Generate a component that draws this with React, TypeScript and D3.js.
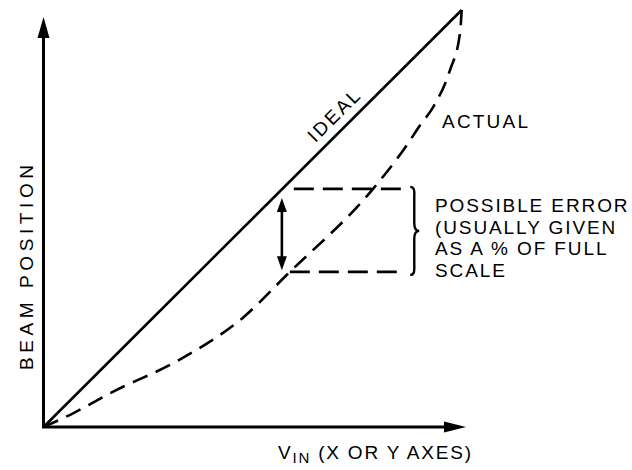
import React, { useEffect, useRef } from 'react'
import * as d3 from 'd3'

// percent of full scale
const idealX = [0, 100]
const idealY = [0, 100]
const actualX = [0, 7.3, 16.1, 31.9, 47.9, 58.2, 78.8, 86.9, 90.0, 93.1, 97.2, 99.6, 100]
const actualY = [0, 3.4, 8.2, 15.8, 26.4, 36.5, 57.1, 67.6, 72.3, 76.6, 85.6, 94.5, 100]

// error window (percent)
const errorTop = 57.1
const errorBottom = 37.2
const errorBoxX = [58.9, 86.0]
const errorArrowX = 57.0
const errorArrowY = [37.6, 54.9]
const braceX = 87.7

const noteLines = ['POSSIBLE ERROR', '(USUALLY GIVEN', 'AS A % OF FULL', 'SCALE']

const W = 632
const H = 470
const FONT = '"Liberation Sans", Arial, Helvetica, sans-serif'

function ErrorChart() {
    const ref = useRef<SVGSVGElement>(null)

    useEffect(() => {
        const svg = d3.select(ref.current)
        svg.selectAll('*').remove()

        const x = d3.scaleLinear().domain([0, 100]).range([43.5, 461.7])
        const y = d3.scaleLinear().domain([0, 100]).range([427, 10])

        // axes with filled arrow heads
        svg.append('line')
            .attr('x1', x(0)).attr('y1', y(0))
            .attr('x2', x(0)).attr('y2', 30)
            .attr('stroke', '#000').attr('stroke-width', 3)
        svg.append('path')
            .attr('d', `M${x(0)},17 L${x(0) - 6},38 L${x(0) + 6},38 Z`)
            .attr('fill', '#000')
        svg.append('line')
            .attr('x1', x(0) - 1.5).attr('y1', y(0))
            .attr('x2', 452).attr('y2', y(0))
            .attr('stroke', '#000').attr('stroke-width', 3)
        svg.append('path')
            .attr('d', `M466,${y(0)} L444,${y(0) - 5.5} L444,${y(0) + 5.5} Z`)
            .attr('fill', '#000')

        // ideal (solid)
        svg.append('path')
            .attr('d', d3.line<number>().x(d => x(d)).y((d, i) => y(idealY[i]))(idealX))
            .attr('fill', 'none')
            .attr('stroke', '#000')
            .attr('stroke-width', 2.6)

        // actual (dashed)
        svg.append('path')
            .attr('d', d3.line<number>()
                .x(d => x(d))
                .y((d, i) => y(actualY[i]))
                .curve(d3.curveMonotoneX)(actualX))
            .attr('fill', 'none')
            .attr('stroke', '#000')
            .attr('stroke-width', 2.6)
            .attr('stroke-dasharray', '16 9')

        // error window
        svg.append('line')
            .attr('x1', x(errorBoxX[0]) + 4).attr('x2', x(errorBoxX[1]))
            .attr('y1', y(errorTop)).attr('y2', y(errorTop))
            .attr('stroke', '#000').attr('stroke-width', 2.6)
            .attr('stroke-dasharray', '20 9')
        svg.append('line')
            .attr('x1', x(errorBoxX[0])).attr('x2', x(errorBoxX[1]))
            .attr('y1', y(errorBottom)).attr('y2', y(errorBottom))
            .attr('stroke', '#000').attr('stroke-width', 2.6)
            .attr('stroke-dasharray', '20 9')

        // double-headed arrow
        const ax = x(errorArrowX)
        const aTop = y(errorArrowY[1])
        const aBot = y(errorArrowY[0])
        svg.append('line')
            .attr('x1', ax).attr('x2', ax)
            .attr('y1', aTop + 10).attr('y2', aBot - 10)
            .attr('stroke', '#000').attr('stroke-width', 2.6)
        svg.append('path')
            .attr('d', `M${ax},${aTop} L${ax - 5},${aTop + 14} L${ax + 5},${aTop + 14} Z`)
            .attr('fill', '#000')
        svg.append('path')
            .attr('d', `M${ax},${aBot} L${ax - 5},${aBot - 14} L${ax + 5},${aBot - 14} Z`)
            .attr('fill', '#000')

        // brace
        const bx = x(braceX)
        const bt = y(errorTop) - 2
        const bb = y(errorBottom) + 3
        const bm = (bt + bb) / 2
        svg.append('path')
            .attr('d', `M${bx},${bt} C${bx + 5},${bt} ${bx + 4},${bt + 6} ${bx + 4},${bt + 12}
                L${bx + 4},${bm - 8} C${bx + 4},${bm - 2} ${bx + 6},${bm} ${bx + 9},${bm}
                C${bx + 6},${bm} ${bx + 4},${bm + 2} ${bx + 4},${bm + 8}
                L${bx + 4},${bb - 12} C${bx + 4},${bb - 6} ${bx + 5},${bb} ${bx},${bb}`)
            .attr('fill', 'none')
            .attr('stroke', '#000')
            .attr('stroke-width', 2.4)

        const txt = svg.append('g')
            .attr('font-family', FONT)
            .attr('font-size', 19)
            .attr('fill', '#000')

        txt.selectAll('text.note')
            .data(noteLines)
            .join('text')
            .attr('class', 'note')
            .attr('x', 435)
            .attr('y', (d, i) => 212 + i * 21.7)
            .attr('letter-spacing', 1.9)
            .text(d => d)

        txt.append('text')
            .attr('x', 442).attr('y', 128)
            .attr('textLength', 86).attr('lengthAdjust', 'spacing')
            .text('ACTUAL')

        // IDEAL label along the line
        const t = 72
        const px = x(t) - 6.4
        const py = y(t) - 6.4
        txt.append('text')
            .attr('transform', `translate(${px},${py}) rotate(-44.9)`)
            .attr('text-anchor', 'middle')
            .attr('textLength', 65).attr('lengthAdjust', 'spacing')
            .text('IDEAL')

        txt.append('text')
            .attr('transform', `translate(33,${(165 + 370) / 2}) rotate(-90)`)
            .attr('text-anchor', 'middle')
            .attr('textLength', 205).attr('lengthAdjust', 'spacing')
            .text('BEAM POSITION')

        const vin = txt.append('text')
            .attr('x', 278).attr('y', 459)
            .attr('letter-spacing', 1.8)
        vin.append('tspan').text('V')
        vin.append('tspan').attr('font-size', 15).attr('dy', 4).text('IN')
        vin.append('tspan').attr('dy', -4).text(' (X OR Y AXES)')
    }, [])

    return <svg ref={ref} width={W} height={H} style={{ position: 'absolute', left: 0, top: 0, background: '#fff' }} />
}

export default function App() {
    return <ErrorChart />
}
